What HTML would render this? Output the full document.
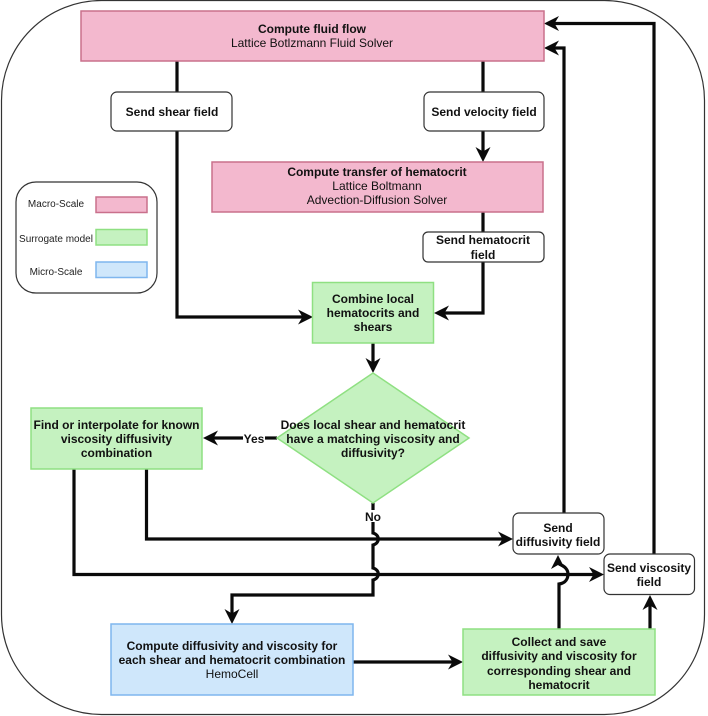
<!DOCTYPE html>
<html>
<head>
<meta charset="utf-8">
<style>
html,body{margin:0;padding:0;background:#fff;width:708px;height:716px;overflow:hidden}
svg{display:block;filter:blur(0.35px)}
text{font-family:"Liberation Sans",sans-serif;font-size:12px;fill:#111;text-anchor:middle}
.b{font-weight:bold}
.l{font-size:10px;fill:#222}
.pink{fill:#f3b8ce;stroke:#c9708c;stroke-width:1.5}
.green{fill:#c5f2c0;stroke:#8fe082;stroke-width:1.5}
.blue{fill:#cfe7fb;stroke:#7fb6ee;stroke-width:1.5}
.w{fill:#fff;stroke:#333;stroke-width:1.2}
.c{fill:none;stroke:#0a0a0a;stroke-width:3.2}
</style>
</head>
<body>
<svg width="708" height="716" viewBox="0 0 708 716" xmlns="http://www.w3.org/2000/svg">
<defs>
<marker id="a" markerUnits="userSpaceOnUse" markerWidth="16" markerHeight="16" refX="10" refY="8" orient="auto">
<path d="M15 8 L0 0.500 L4.500 8 L0 15.500Z" fill="#0a0a0a"/>
</marker>
</defs>

<rect x="1.5" y="0.5" width="703" height="714" rx="100" ry="100" fill="#fff" stroke="#333" stroke-width="1.2"/>

<!-- connectors -->
<path class="c" d="M177 61V92"/>
<path class="c" d="M177 131V317H308" marker-end="url(#a)"/>
<path class="c" d="M483 61V92"/>
<path class="c" d="M483 131V157" marker-end="url(#a)"/>
<path class="c" d="M483 212V233"/>
<path class="c" d="M483 262V313H439" marker-end="url(#a)"/>
<path class="c" d="M373 343V368" marker-end="url(#a)"/>
<path class="c" d="M277 438H265"/>
<path class="c" d="M243 438H208" marker-end="url(#a)"/>
<path class="c" d="M373 503V510"/>
<path class="c" d="M146.500 469V539H508" marker-end="url(#a)"/>
<path class="c" d="M74 469V574.500H599" marker-end="url(#a)"/>
<path class="c" d="M373 522V533C380 535 380 543 373 545V568C380 570 380 578 373 580V595H232V619" marker-end="url(#a)"/>
<path class="c" d="M353 662H458" marker-end="url(#a)"/>
<path class="c" d="M559 629V584C566 583 568 578 568 574C568 570 565 566 559 564" />
<path d="M558 555L551 569L558 565L565 569Z" fill="#0a0a0a"/>
<path class="c" d="M650 629V600" marker-end="url(#a)"/>
<path class="c" d="M564 513V48H549" marker-end="url(#a)"/>
<path class="c" d="M654 554V23.500H549" marker-end="url(#a)"/>

<!-- nodes -->
<rect class="pink" x="81" y="11" width="463" height="50"/>
<text class="b" x="312" y="33">Compute fluid flow</text>
<text x="312" y="47">Lattice Botlzmann Fluid Solver</text>

<rect class="w" x="111" y="92" width="121" height="39" rx="6"/>
<text class="b" x="172" y="116">Send shear field</text>
<rect class="w" x="424" y="92" width="120" height="39" rx="6"/>
<text class="b" x="484" y="116">Send velocity field</text>

<rect class="pink" x="212" y="162" width="331" height="50"/>
<text class="b" x="377" y="176">Compute transfer of hematocrit</text>
<text x="377" y="190">Lattice Boltmann</text>
<text x="377" y="204">Advection-Diffusion Solver</text>

<rect class="w" x="423" y="232" width="121" height="30" rx="5"/>
<text class="b" x="483" y="244">Send hematocrit</text>
<text class="b" x="483" y="259">field</text>

<rect class="green" x="312.500" y="282.500" width="121" height="60.500"/>
<text class="b" x="373" y="303">Combine local</text>
<text class="b" x="373" y="317">hematocrits and</text>
<text class="b" x="373" y="331">shears</text>

<polygon class="green" points="373,373 469,438 373,503 277,438"/>
<text class="b" x="373" y="429">Does local shear and hematocrit</text>
<text class="b" x="373" y="443">have a matching viscosity and</text>
<text class="b" x="373" y="457">diffusivity?</text>

<rect class="green" x="31" y="408" width="171" height="61"/>
<text class="b" x="116.500" y="429">Find or interpolate for known</text>
<text class="b" x="116.500" y="443">viscosity diffusivity</text>
<text class="b" x="116.500" y="457">combination</text>

<text class="b" x="254" y="443">Yes</text>
<text class="b" x="373" y="521">No</text>

<rect class="w" x="513" y="513" width="91" height="41" rx="6"/>
<text class="b" x="558" y="532">Send</text>
<text class="b" x="558" y="546">diffusivity field</text>

<rect class="w" x="604" y="554" width="90.500" height="40.500" rx="6"/>
<text class="b" x="649" y="572">Send viscosity</text>
<text class="b" x="649" y="586">field</text>

<rect class="blue" x="111" y="624" width="242" height="71"/>
<text class="b" x="232" y="650">Compute diffusivity and viscosity for</text>
<text class="b" x="232" y="664">each shear and hematocrit combination</text>
<text x="232" y="678">HemoCell</text>

<rect class="green" x="463" y="629" width="192" height="66"/>
<text class="b" x="559" y="646">Collect and save</text>
<text class="b" x="559" y="660">diffusivity and viscosity for</text>
<text class="b" x="559" y="675">corresponding shear and</text>
<text class="b" x="559" y="689">hematocrit</text>

<!-- legend -->
<rect x="16" y="182" width="141" height="111" rx="20" ry="20" fill="#fff" stroke="#333" stroke-width="1.2"/>
<text class="l" x="56" y="207">Macro-Scale</text>
<rect class="pink" x="96" y="197" width="51" height="15.500"/>
<text class="l" x="56" y="242">Surrogate model</text>
<rect class="green" x="96" y="229.500" width="51" height="15.500"/>
<text class="l" x="56" y="275">Micro-Scale</text>
<rect class="blue" x="96" y="262" width="51" height="15.500"/>
</svg>
</body>
</html>
